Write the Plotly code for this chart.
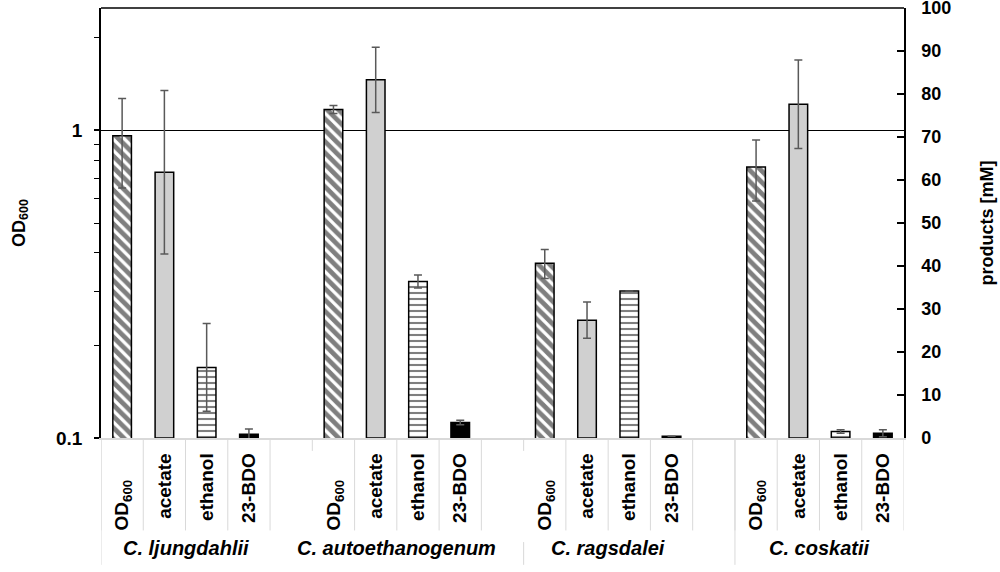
"""Growth (OD600, log scale) and product titres of four acetogenic Clostridia."""
import math

import plotly.graph_objects as go

strains = ["C. ljungdahlii", "C. autoethanogenum", "C. ragsdalei", "C. coskatii"]
measures = ["OD<sub>600</sub>", "acetate", "ethanol", "23-BDO"]

# OD600 -> left log axis
od600 = [0.96, 1.17, 0.37, 0.76]
od600_err = [0.31, 0.035, 0.04, 0.17]

# products [mM] -> right linear axis
acetate = [61.8, 83.3, 27.4, 77.6]
acetate_err = [19.0, 7.6, 4.2, 10.3]
ethanol = [16.4, 36.4, 34.2, 1.5]
ethanol_err = [10.2, 1.5, 0.0, 0.4]
bdo = [0.9, 3.6, 0.4, 1.1]
bdo_err = [1.2, 0.5, 0.0, 0.8]

od_ticks = [0.1, 1]
od_minor = [0.2, 0.3, 0.4, 0.5, 0.6, 0.7, 0.8, 0.9, 2]

SLOT = len(measures) + 1          # four bars + one blank slot per strain
FONT = "Liberation Sans, Arial, sans-serif"
ERR = dict(type="data", color="#595959", thickness=1.5, width=4)


def xs(m):
    return [g * SLOT + m for g in range(len(strains))]


def bar(m, y, err, yaxis, **marker):
    return go.Bar(x=xs(m), y=y, yaxis=yaxis, width=0.44, showlegend=False,
                  hoverinfo="skip", error_y=dict(array=err, **ERR),
                  marker=dict(line=dict(color="black", width=1.5), **marker))


fig = go.Figure()
fig.add_trace(bar(0, od600, od600_err, "y", color="white",
                  pattern=dict(shape="\\", fgcolor="black", bgcolor="white",
                               size=8, solidity=0.6)))
fig.add_trace(bar(1, acetate, acetate_err, "y2", color="#d0d0d0"))
fig.add_trace(bar(2, ethanol, ethanol_err, "y2", color="white",
                  pattern=dict(shape="-", fgcolor="black", bgcolor="white",
                               size=6, solidity=0.35)))
fig.add_trace(bar(3, bdo, bdo_err, "y2", color="black"))

nslots = SLOT * len(strains) - 1
tickvals, ticktext = [], []
for g in range(len(strains)):
    for m, name in enumerate(measures):
        tickvals.append(g * SLOT + m)
        pad = "\u00a0" * 5 if m == 0 else ""
        ticktext.append(f"<b>{name}</b>{pad}")

# long separators under the labels; the slot after each blank gap only gets a stub
long_sep = [b - 0.5 for b in range(nslots + 1) if b not in (5, 10)]
stub_sep = [4.5, 9.5]

for g, name in enumerate(strains):
    fig.add_annotation(x=g * SLOT + 1.5, y=-0.256, xref="x", yref="paper",
                       yanchor="middle", text=f"<b><i>{name}</i></b>",
                       showarrow=False, font=dict(family=FONT, size=20, color="black"))

sep = dict(type="line", xref="x", yref="paper", line=dict(color="#d9d9d9", width=1))
for xb in long_sep:
    fig.add_shape(x0=xb, x1=xb, y0=0, y1=-0.215, **sep)
for xb in stub_sep:
    fig.add_shape(x0=xb, x1=xb, y0=0, y1=-0.03, **sep)
for xb in (-0.5, 14.5):
    fig.add_shape(x0=xb, x1=xb, y0=0, y1=-0.295, **sep)
fig.add_shape(x0=9.5, x1=9.5, y0=-0.242, y1=-0.295, **sep)
fig.add_shape(type="line", xref="paper", yref="paper", x0=0, x1=1, y0=1, y1=1,
              line=dict(color="black", width=1.5))

fig.update_layout(
    width=1000, height=572, barmode="overlay",
    paper_bgcolor="white", plot_bgcolor="white",
    margin=dict(l=101, r=96, t=8, b=134),
    font=dict(family=FONT, size=19, color="black"),
    xaxis=dict(range=[-0.5, nslots - 0.5], tickmode="array", tickvals=tickvals,
               ticktext=ticktext, tickangle=-90, ticks="", showgrid=False,
               zeroline=False, showline=True, linecolor="#d9d9d9", linewidth=1.5,
               tickfont=dict(size=19), ticklabelstandoff=6, automargin=False),
    yaxis=dict(type="log", range=[-1, math.log10(2.5)], tickmode="array",
               tickvals=od_ticks, ticktext=[str(v) for v in od_ticks],
               ticks="outside", ticklen=5, tickwidth=1.5, tickcolor="black",
               showline=True, linecolor="black", linewidth=1.5,
               showgrid=True, gridcolor="black", gridwidth=1.2,
               tickfont=dict(size=19, weight="bold"), ticklabelstandoff=8,
               minor=dict(tickmode="array", tickvals=od_minor, ticks="outside",
                          ticklen=5, tickwidth=1.2, tickcolor="black", showgrid=False),
               title=dict(text="<b>OD<sub>600</sub></b>", font=dict(size=18),
                          standoff=26),
               automargin=False),
    yaxis2=dict(overlaying="y", side="right", range=[0, 100], dtick=10,
                ticks="inside", ticklen=7, tickwidth=1.5, tickcolor="black",
                showline=True, linecolor="black", linewidth=1.5, showgrid=False,
                zeroline=False, tickfont=dict(size=18, weight="bold"),
                ticklabelstandoff=12, ticklabeloverflow="allow",
                title=dict(text="<b>products [mM]</b>", font=dict(size=18),
                           standoff=30),
                automargin=False),
)

# the page body has a default 8px margin; drop it so the chart sits at (0, 0)
fig.write_html("out.html", config={"displayModeBar": False},
               post_script="document.body.style.margin = '0';")
